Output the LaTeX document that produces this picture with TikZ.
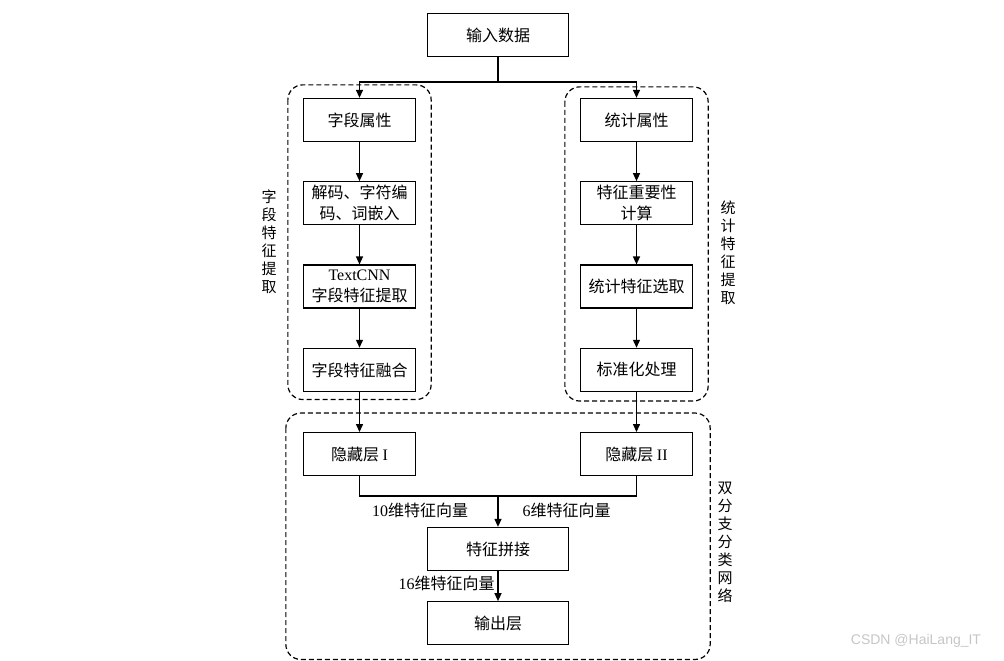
\documentclass[tikz,border=0pt]{standalone}
\usepackage{fontspec}
\setmainfont{Liberation Serif}
\newfontfamily\cjk{Noto Sans CJK SC}
\newfontfamily\wmfont{Liberation Sans}
\usetikzlibrary{arrows.meta, positioning, calc}

\begin{document}
\begin{tikzpicture}[
    x=1pt, y=-1pt,
    box/.style={rectangle, draw=black, line width=1.3pt, minimum width=112pt, minimum height=43pt, inner sep=1pt, align=center, font=\cjk\fontsize{16}{21}\selectfont},
    wide/.style={box, minimum width=141pt},
    group/.style={draw=black, line width=1.2pt, dash pattern=on 5pt off 3pt, rounded corners=15pt},
    side/.style={align=center, inner sep=0pt, font=\cjk\fontsize{15}{18}\selectfont},
    vec/.style={inner sep=1pt, font=\fontsize{16}{20}\selectfont},
    line/.style={line width=1.3pt},
    arrow/.style={line width=1.3pt, -{Triangle[length=8pt,width=7pt]}}
]
\useasboundingbox (0,0) rectangle (1004,661);

% Input
\node[wide] (input) at (498,35) {输入数据};

% Field branch
\node[box] (field) at (359.5,120) {字段属性};
\node[box, below=39pt of field] (code) {解码、字符编\\码、词嵌入};
\node[box, below=39pt of code] (textcnn) {{\rmfamily TextCNN}\\字段特征提取};
\node[box, below=39pt of textcnn] (fuse) {字段特征融合};

% Statistic branch
\node[box] (stat) at (636.5,120) {统计属性};
\node[box, below=39pt of stat] (imp) {特征重要性\\计算};
\node[box, below=39pt of imp] (sel) {统计特征选取};
\node[box, below=39pt of sel] (norm) {标准化处理};

% Dual-branch network
\node[box, below=40pt of fuse] (hidden1) {隐藏层 {\rmfamily I}};
\node[box, below=40pt of norm] (hidden2) {隐藏层 {\rmfamily II}};
\node[wide] (concat) at (498,549) {特征拼接};
\node[wide, below=30pt of concat] (out) {输出层};

% Dashed groups
\draw[group] ($(field.north west)+(-15,-13)$) rectangle ($(fuse.south east)+(15,7.5)$);
\draw[group] ($(stat.north west)+(-15,-11)$) rectangle ($(norm.south east)+(15,9)$);
\draw[group] ($(hidden1.north west)+(-17,-19)$) rectangle ($(out.south -| hidden2.east)+(17,14)$);

% Arrows
\coordinate (split) at ($(input.south)+(0,25)$);
\draw[line] (input) -- (split);
\draw[arrow] (split) -| (field);
\draw[arrow] (split) -| (stat);
\draw[arrow] (field) -- (code);
\draw[arrow] (code) -- (textcnn);
\draw[arrow] (textcnn) -- (fuse);
\draw[arrow] (stat) -- (imp);
\draw[arrow] (imp) -- (sel);
\draw[arrow] (sel) -- (norm);
\draw[arrow] (fuse) -- (hidden1);
\draw[arrow] (norm) -- (hidden2);
\coordinate (merge) at ($(concat.north)+(0,-31)$);
\draw[line] (hidden1) |- (merge) -| (hidden2);
\draw[arrow] (merge) -- (concat);
\draw[arrow] (concat) -- (out);

% Vector labels
\node[vec] (vec10) at (420,510) {10{\cjk 维特征向量}};
\node[vec] (vec6) at (566.7,510) {6{\cjk 维特征向量}};
\node[vec] (vec16) at (446.7,583) {16{\cjk 维特征向量}};

% Side labels
\node[side] (lab1) at (269,241.5) {字\\段\\特\\征\\提\\取};
\node[side] (lab2) at (728,252.5) {统\\计\\特\\征\\提\\取};
\node[side] (lab3) at (725,542.5) {双\\分\\支\\分\\类\\网\\络};

% Watermark
\node[text=gray!45, font=\wmfont\fontsize{14}{16}\selectfont] (mark) at (916,641) {CSDN @HaiLang\_IT};
\end{tikzpicture}
\end{document}
